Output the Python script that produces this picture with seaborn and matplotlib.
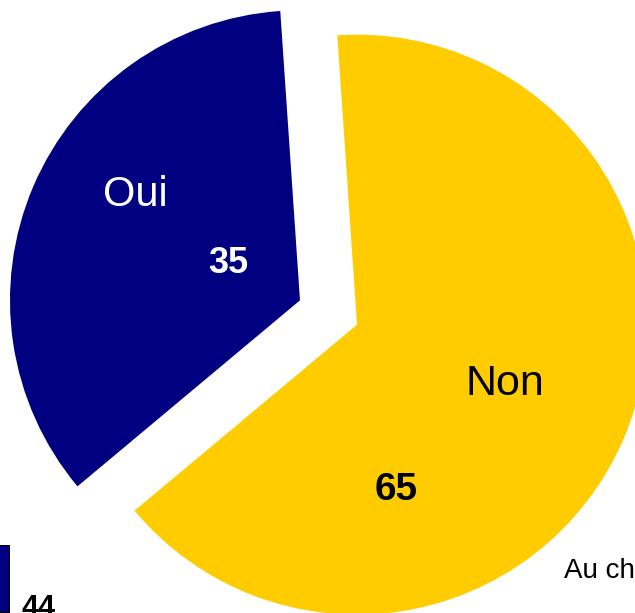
import matplotlib
matplotlib.use('Agg')
import matplotlib.pyplot as plt
import seaborn as sns
import pandas as pd

# Data
categories = ["Oui", "Non"]
values = [35, 65]
slice_colors = ["#000080", "#FFCC00"]
bar_categories = ["A"]
bar_values = [44]
bar_label = "44"
footer_text = "Au ch"

sns.set_theme(style="white")
plt.rcParams['font.family'] = ['Liberation Sans', 'DejaVu Sans']

W, H = 635, 613
fig = plt.figure(figsize=(W / 100, H / 100), dpi=100)
ax = fig.add_axes([0, 0, 1, 1])

# pie centre in pixel coordinates (from top-left)
cx, cy = 328.5, 312.5

ax.pie(values, colors=slice_colors, startangle=93.9, counterclock=True,
       radius=290, explode=[31, 31], center=(0, 0),
       wedgeprops=dict(linewidth=0))
# pie() resets the limits, so set them afterwards
ax.set_xlim(-cx, W - cx)
ax.set_ylim(-(H - cy), cy)
ax.set_aspect('equal')
ax.axis('off')


def px(sx, sy):
    return sx - cx, cy - sy


ax.text(*px(135, 206), categories[0], color='white', fontsize=30,
        ha='center', va='baseline')
ax.text(*px(228, 273), str(values[0]), color='white', fontsize=26,
        fontweight='bold', ha='center', va='baseline')
ax.text(*px(505, 395), categories[1], color='black', fontsize=31,
        ha='center', va='baseline')
ax.text(*px(396, 500), str(values[1]), color='black', fontsize=28,
        fontweight='bold', ha='center', va='baseline')

# cut-off bar chart in the lower-left corner
bax = fig.add_axes([-60 / W, 0, 70 / W, (H - 545) / H])
df = pd.DataFrame({'cat': bar_categories, 'val': bar_values})
sns.barplot(data=df, x='cat', y='val', ax=bax, color='#000080',
            edgecolor='black', linewidth=1.5, width=1.0, saturation=1)
bax.set_ylim(0, bar_values[0])
bax.set_xlim(-0.5, 0.5)
bax.axis('off')
bax.patch.set_alpha(0)

fig.text(21 / W, 1 - 617 / H, bar_label, fontsize=22, fontweight='bold',
         color='black', ha='left', va='baseline')

fig.text(564 / W, 1 - 578 / H, footer_text, fontsize=20,
         color='black', ha='left', va='baseline')

fig.savefig('out.png', dpi=100)
